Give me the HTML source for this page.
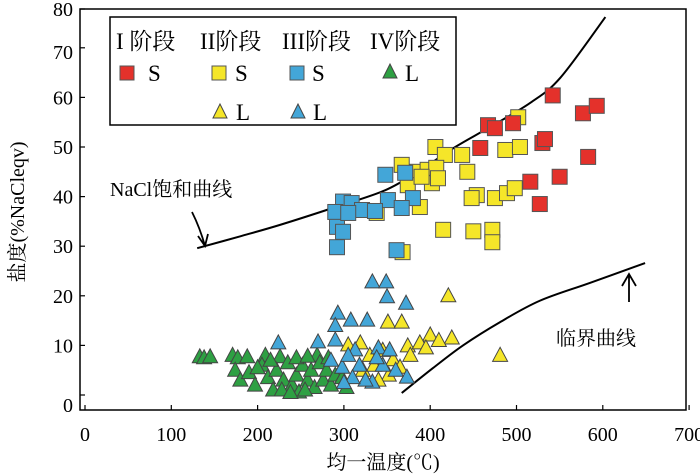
<!DOCTYPE html>
<html><head><meta charset="utf-8"><style>
body{margin:0;background:#fff}
svg{display:block;font-family:"Liberation Serif","Noto Serif CJK SC",serif}
</style></head><body>
<svg id="c" width="700" height="474" viewBox="0 0 700 474"></svg>
<script>
const xTicks=[0,100,200,300,400,500,600,700];
const yTicks=[0,10,20,30,40,50,60,70,80];
const redS=[[542,60.4],[577,56.8],[593,58.3],[467,54.4],[475,53.8],[496,54.8],[458,49.8],[530,50.8],[533,51.6],[583,48],[550,44],[516,43],[527,38.5]];
const yellowS=[[502,56],[406,50],[417,48.4],[437,48.4],[487,49.4],[504,50],[367,46.4],[385,45],[397,45.4],[407,45.8],[443,45],[374,42.3],[402,42.7],[409,43.7],[390,44],[454,40.3],[475,39.7],[489,40.7],[498,41.7],[448,39.7],[388,37.9],[338,36.7],[415,33.3],[450,33],[472,33.3],[472,30.8],[368,28.8]];
const blueS=[[348,44.4],[371,44.8],[380,39.7],[351,39.3],[299,39],[309,38.7],[290,36.9],[321,37.3],[336,37.1],[367,37.7],[292,33.9],[299,32.9],[292,29.8],[361,29.2],[305,36.7]];
const yellowL=[[421,20],[351,14.7],[367,14.7],[400,12.1],[425,11.5],[374,9.9],[388,10.5],[305,10.1],[319,10.5],[357,7.1],[481,8],[365,5.6],[330,8],[345,9],[335,6],[352,4],[377,8],[395,9.5],[410,11],[322,5],[340,3]];
const blueL=[[333,22.8],[349,22.8],[350,19.8],[372,18.5],[293,16.5],[308,15.1],[327,15.1],[224,10.5],[270,10.7],[290,11.1],[313,9.1],[340,9.5],[353,9.1],[298,5.6],[333,2.6],[373,3.6],[290,14],[305,8],[318,6],[325,3],[310,3.5],[345,6],[360,5],[285,7],[300,2.5],[338,7.5]];
const greenL=[[133,7.7],[138,7.5],[145,7.7],[171,8],[177,7.5],[188,7.7],[209,8],[226,7.7],[269,8],[174,5],[180,3],[190,4.5],[197,2],[205,6],[212,3.5],[218,1],[222,5],[230,3],[235,6.5],[240,2],[245,4],[248,0.6],[252,6],[258,3],[262,5],[266,1.5],[272,6.5],[276,3],[280,5],[285,2],[290,4],[245,7.5],[258,7.8],[200,5.5],[228,1],[238,0.5],[298,3.5],[303,1.5],[215,7],[282,7.5],[255,1]];
const satCurve=[[130,29.6],[180,32],[226,34.3],[287,37.7],[348,41.3],[389,45.4],[429,50],[469,54],[516,58.9],[551,64],[603,76.2]];
const critCurve=[[367,0.4],[403,5.4],[438,10],[481,14.7],[527,19],[585,22.6],[649,26.6]];
const L=80,R=686,T=9,B=410;
const xs=v=>85+v*0.863;
const ys=v=>395-v*4.96;
const svg=document.getElementById('c');
const NS='http://www.w3.org/2000/svg';
function mk(t,a,p){const e=document.createElementNS(NS,t);for(const k in a)e.setAttribute(k,a[k]);(p||svg).appendChild(e);return e;}
const frame=mk('rect',{x:L,y:T,width:R-L,height:B-T,fill:'none',stroke:'#000','stroke-width':1.5});


xTicks.forEach(v=>{const x=xs(v);
 const t=mk('line',{x1:x,y1:B,x2:x,y2:B-5,stroke:'#000','stroke-width':1.2});
 
 
 const l=mk('text',{x:x,y:441,'font-size':20,'text-anchor':'middle'});l.textContent=v;
 
 });
yTicks.forEach(v=>{const y=Math.max(ys(v),9);
 const t=mk('line',{x1:L,y1:y,x2:L+5,y2:y,stroke:'#000','stroke-width':1.2});
 
 
 const l=mk('text',{x:73,y:(v==0?ys(v)+10:(v==80?ys(v)+11:(v==70?ys(v)+4:ys(v))))+7,'font-size':20,'text-anchor':'end'});l.textContent=v;
 
 });
function path(d,name){const P=d.map(q=>[xs(q[0]),ys(q[1])]);let s='M'+P[0][0]+','+P[0][1];
 for(let i=0;i<P.length-1;i++){const p0=P[Math.max(i-1,0)],p1=P[i],p2=P[i+1],p3=P[Math.min(i+2,P.length-1)];
  s+='C'+(p1[0]+(p2[0]-p0[0])/6)+','+(p1[1]+(p2[1]-p0[1])/6)+' '+(p2[0]-(p3[0]-p1[0])/6)+','+(p2[1]-(p3[1]-p1[1])/6)+' '+p2[0]+','+p2[1];}
 const p=mk('path',{d:s,fill:'none',stroke:'#000','stroke-width':2});
 
 }
path(satCurve,'nacl-saturation-curve');path(critCurve,'critical-curve');
const g=mk('g',{});


function sq(d,col,name){d.forEach(q=>{const r=mk('rect',{x:xs(q[0])-7.5,y:ys(q[1])-7.5,width:15,height:15,fill:col,stroke:'#555','stroke-width':1},g);
 
 });}
function tri(d,col,name){d.forEach(q=>{const x=xs(q[0]),y=ys(q[1]);const r=mk('polygon',{points:`${x},${y-8} ${x-7.5},${y+6} ${x+7.5},${y+6}`,fill:col,stroke:'#444','stroke-width':1},g);
 
 });}
tri(greenL,'#2ea043','stage4-l-point');tri(yellowL,'#f5e629','stage2-l-point');tri(blueL,'#43a6d8','stage3-l-point');
sq(yellowS,'#f5e629','stage2-s-point');sq(blueS,'#43a6d8','stage3-s-point');sq(redS,'#e4312b','stage1-s-point');
</script>
<svg width="700" height="474" style="position:absolute;left:0;top:0" font-family="'Liberation Serif','Noto Serif CJK SC',serif">
 <g>
  <rect x="110" y="17" width="346" height="108" fill="#fff" stroke="#000" stroke-width="1.5"/>
  <text x="116" y="49" font-size="23">I 阶段</text><text x="200" y="49" font-size="23">II阶段</text><text x="282" y="49" font-size="23">III阶段</text><text x="370" y="49" font-size="23">IV阶段</text>
  <rect x="120" y="66" width="14" height="14" fill="#e4312b" stroke="#555"/><text x="148" y="81" font-size="23">S</text>
  <rect x="212" y="66" width="14" height="14" fill="#f5e629" stroke="#555"/><text x="235" y="81" font-size="23">S</text>
  <rect x="290" y="66" width="14" height="14" fill="#43a6d8" stroke="#555"/><text x="312" y="81" font-size="23">S</text>
  <polygon points="390,64 383,78 397,78" fill="#2ea043" stroke="#444"/><text x="405" y="81" font-size="23">L</text>
  <polygon points="220,104 213,118 227,118" fill="#f5e629" stroke="#444"/><text x="236" y="120" font-size="23">L</text>
  <polygon points="298,104 291,118 305,118" fill="#43a6d8" stroke="#444"/><text x="313" y="120" font-size="23">L</text>
 </g>
 <text x="110" y="196" font-size="20">NaCl饱和曲线</text>
 <path d="M192,212 Q200,228 205,246 M198,236 L205,246 L208,234" fill="none" stroke="#000" stroke-width="1.8"/>
 <path d="M629,302 L629,274 M622,286 L629,274 L636,286" fill="none" stroke="#000" stroke-width="1.8"/>
 <text x="556" y="345" font-size="20">临界曲线</text>
 <text x="383" y="469" font-size="20" text-anchor="middle">均一温度(℃)</text>
 <text transform="translate(24,212) rotate(-90)" font-size="20" text-anchor="middle">盐度(%NaCleqv)</text>
</svg>
</body></html>
